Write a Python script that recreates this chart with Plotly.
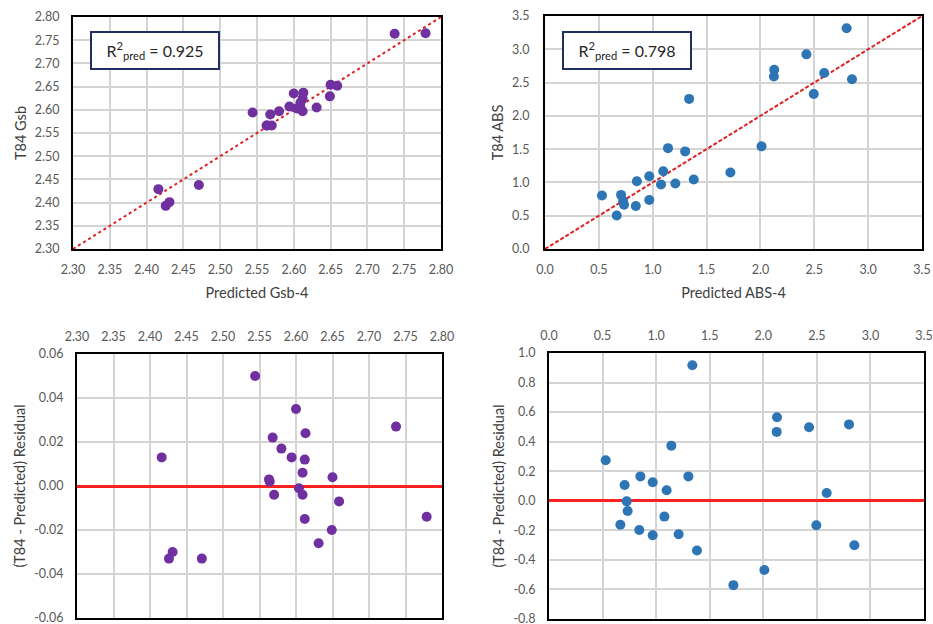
import plotly.graph_objects as go

# ---------------- data ----------------
gsb_pred = [2.544, 2.600, 2.737, 2.568, 2.613, 2.580, 2.594, 2.612, 2.416, 2.609, 2.563, 2.564,
            2.650, 2.604, 2.609, 2.570, 2.659, 2.779, 2.612, 2.649, 2.631, 2.431, 2.426, 2.471]
gsb_meas = [2.594, 2.635, 2.764, 2.590, 2.637, 2.597, 2.607, 2.624, 2.429, 2.615, 2.566, 2.566,
            2.654, 2.603, 2.605, 2.566, 2.652, 2.765, 2.597, 2.629, 2.605, 2.401, 2.393, 2.438]
gsb_resid = [0.050, 0.035, 0.027, 0.022, 0.024, 0.017, 0.013, 0.012, 0.013, 0.006, 0.003, 0.002,
             0.004, -0.001, -0.004, -0.004, -0.007, -0.014, -0.015, -0.020, -0.026, -0.030, -0.033, -0.033]

abs_pred = [1.338, 2.128, 2.125, 2.427, 2.800, 1.142, 0.529, 0.853, 1.301, 0.968, 0.706, 1.098, 2.592,
            0.725, 0.734, 1.077, 0.666, 2.495, 0.843, 0.968, 1.210, 2.850, 1.381, 2.010, 1.721]
abs_meas = [2.255, 2.693, 2.591, 2.924, 3.317, 1.515, 0.803, 1.018, 1.466, 1.093, 0.813, 1.169, 2.645,
            0.721, 0.665, 0.970, 0.504, 2.329, 0.645, 0.735, 0.984, 2.549, 1.044, 1.542, 1.150]
abs_resid = [0.917, 0.565, 0.466, 0.497, 0.517, 0.373, 0.274, 0.165, 0.165, 0.125, 0.107, 0.071, 0.053,
             -0.004, -0.069, -0.107, -0.162, -0.166, -0.198, -0.233, -0.226, -0.301, -0.337, -0.468, -0.571]

gsb_line = [2.30, 2.80]
abs_line = [0.0, 3.5]

gsb_ticks = [2.30, 2.35, 2.40, 2.45, 2.50, 2.55, 2.60, 2.65, 2.70, 2.75, 2.80]
gsb_ticktext = ["2.30", "2.35", "2.40", "2.45", "2.50", "2.55", "2.60", "2.65", "2.70", "2.75", "2.80"]
abs_ticks = [0.0, 0.5, 1.0, 1.5, 2.0, 2.5, 3.0, 3.5]
abs_ticktext = ["0.0", "0.5", "1.0", "1.5", "2.0", "2.5", "3.0", "3.5"]
gres_ticks = [-0.06, -0.04, -0.02, 0.0, 0.02, 0.04, 0.06]
gres_ticktext = ["-0.06", "-0.04", "-0.02", "0.00", "0.02", "0.04", "0.06"]
ares_ticks = [-0.8, -0.6, -0.4, -0.2, 0.0, 0.2, 0.4, 0.6, 0.8, 1.0]
ares_ticktext = ["-0.8", "-0.6", "-0.4", "-0.2", "0.0", "0.2", "0.4", "0.6", "0.8", "1.0"]

r2_gsb = "0.925"
r2_abs = "0.798"

# ---------------- style ----------------
PURPLE = "#7030A0"
BLUE = "#2E75B6"
RED = "#E02020"
GRID = "#D4D4D4"
FONT = "Lato, Carlito, Calibri, sans-serif"
TICKC = "#595959"
TITLEC = "#404040"

W, H = 933, 624
def fx(px):
    return px / W
def fy(py):
    return 1 - py / H

fig = go.Figure()

# Top-left
fig.add_trace(go.Scatter(x=gsb_line, y=gsb_line, mode="lines", xaxis="x", yaxis="y",
                         line=dict(color=RED, width=2, dash="dot"), hoverinfo="skip"))
fig.add_trace(go.Scatter(x=gsb_pred, y=gsb_meas, mode="markers", xaxis="x", yaxis="y",
                         marker=dict(color=PURPLE, size=10)))
# Top-right
fig.add_trace(go.Scatter(x=abs_line, y=abs_line, mode="lines", xaxis="x2", yaxis="y2",
                         line=dict(color=RED, width=2, dash="4px,2px"), hoverinfo="skip"))
fig.add_trace(go.Scatter(x=abs_pred, y=abs_meas, mode="markers", xaxis="x2", yaxis="y2",
                         marker=dict(color=BLUE, size=10)))
# Bottom-left
fig.add_trace(go.Scatter(x=gsb_pred, y=gsb_resid, mode="markers", xaxis="x3", yaxis="y3",
                         marker=dict(color=PURPLE, size=10)))
# Bottom-right
fig.add_trace(go.Scatter(x=abs_pred, y=abs_resid, mode="markers", xaxis="x4", yaxis="y4",
                         marker=dict(color=BLUE, size=10)))

def axis(domain, rng, tickvals, ticktext, title=None, side=None, anchor=None, standoff=12,
         tstand=10, zero=False):
    d = dict(domain=domain, range=rng, tickvals=tickvals, ticktext=ticktext,
             showgrid=True, gridcolor=GRID, gridwidth=1.5,
             showline=True, mirror=True, linecolor="black", linewidth=2,
             ticks="", tickfont=dict(family=FONT, size=12.5, color=TICKC),
             ticklabelstandoff=standoff, ticklabeloverflow="allow",
             automargin=False, anchor=anchor, zeroline=zero)
    if zero:
        d.update(zerolinecolor="#FF2020", zerolinewidth=2.5)
    if side:
        d["side"] = side
    if title:
        d["title"] = dict(text=title, font=dict(family=FONT, size=14.5, color=TITLEC), standoff=tstand)
    return d

fig.update_layout(
    width=W, height=H,
    margin=dict(l=0, r=0, t=0, b=0),
    paper_bgcolor="white", plot_bgcolor="white",
    showlegend=False,
    xaxis=axis([fx(73), fx(441)], [2.30, 2.80], gsb_ticks, gsb_ticktext, "Predicted Gsb-4",
               anchor="y", standoff=8, tstand=12),
    yaxis=axis([fy(249), fy(17)], [2.30, 2.80], gsb_ticks, gsb_ticktext, "T84 Gsb",
               anchor="x", standoff=9, tstand=5),
    xaxis2=axis([fx(545), fx(922)], [0, 3.5], abs_ticks, abs_ticktext, "Predicted ABS-4",
                anchor="y2", standoff=8, tstand=12),
    yaxis2=axis([fy(249), fy(16)], [0, 3.5], abs_ticks, abs_ticktext, "T84 ABS",
                anchor="x2", standoff=11, tstand=5),
    xaxis3=axis([fx(77), fx(442)], [2.30, 2.80], gsb_ticks, gsb_ticktext, None,
                side="top", anchor="y3", standoff=6),
    yaxis3=axis([fy(618), fy(354)], [-0.06, 0.06], gres_ticks, gres_ticktext,
                "(T84 - Predicted) Residual", anchor="x3", standoff=9, tstand=5, zero=True),
    xaxis4=axis([fx(549), fx(924)], [0, 3.5], abs_ticks, abs_ticktext, None,
                side="top", anchor="y4", standoff=6),
    yaxis4=axis([fy(619), fy(353)], [-0.8, 1.0], ares_ticks, ares_ticktext,
                "(T84 - Predicted) Residual", anchor="x4", standoff=9, tstand=5, zero=True),
)

for cx, txt in [(155, r2_gsb), (627, r2_abs)]:
    fig.add_annotation(xref="paper", yref="paper", x=fx(cx), y=fy(50.5),
                       xanchor="center", yanchor="middle", showarrow=False,
                       text="R<sup>2</sup><sub>pred</sub> = " + txt,
                       font=dict(family=FONT, size=16, color="#262626"),
                       bgcolor="white", bordercolor="#1F2F5F", borderwidth=2,
                       width=124, height=33, borderpad=1)

fig.write_html("out.html", config={"displayModeBar": False},
               post_script="document.body.style.margin='0';document.body.style.overflow='hidden';")
